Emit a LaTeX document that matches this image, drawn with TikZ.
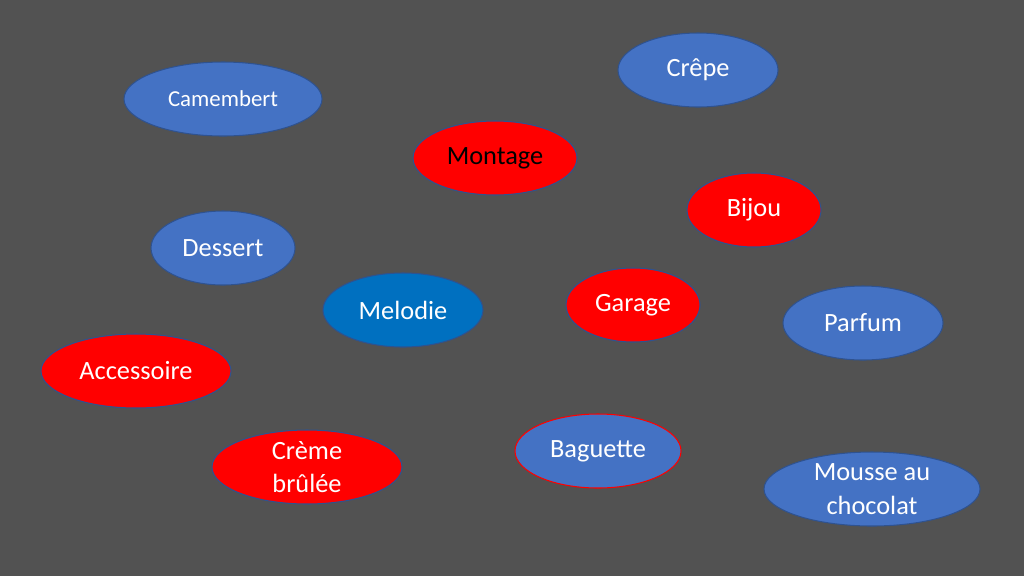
\documentclass[tikz,border=0pt]{standalone}
\usepackage{fontspec}
\setmainfont{Carlito}
\usetikzlibrary{shapes.geometric}
\definecolor{bgray}{HTML}{525252}
\definecolor{wblue}{HTML}{4472C4}
\definecolor{wborder}{HTML}{2F528F}
\definecolor{mblue}{HTML}{0070C0}
\tikzset{
  word/.style={ellipse,draw=wborder,line width=0.6pt,inner sep=0pt,text=white,font=\fontsize{15}{19}\selectfont,align=center},
  blueword/.style={word,fill=wblue},
  redword/.style={word,fill=red},
}
\begin{document}
\begin{tikzpicture}[x=0.02cm,y=-0.02cm]
\fill[bgray] (0,0) rectangle (1024,576);
\node[blueword,minimum width=198*0.02cm,minimum height=74*0.02cm,font=\fontsize{13}{16}\selectfont] (camembert) at (223,99) {Camembert};
\node[blueword,minimum width=160*0.02cm,minimum height=74*0.02cm] (crepe) at (698,70) {Crêpe};
\node[redword,minimum width=164*0.02cm,minimum height=74*0.02cm,text=black] (montage) at (495,158) {Montage};
\node[redword,minimum width=134*0.02cm,minimum height=74*0.02cm] (bijou) at (754,210) {Bijou};
\node[blueword,minimum width=144*0.02cm,minimum height=74*0.02cm] (dessert) at (223,248) {Dessert};
\node[word,fill=mblue,minimum width=160*0.02cm,minimum height=74*0.02cm] (melodie) at (403,310) {Melodie};
\node[redword,minimum width=134*0.02cm,minimum height=74*0.02cm] (garage) at (633,305) {Garage};
\node[blueword,minimum width=160*0.02cm,minimum height=74*0.02cm] (parfum) at (863,323) {Parfum};
\node[redword,minimum width=190*0.02cm,minimum height=74*0.02cm] (accessoire) at (136,371) {Accessoire};
\node[redword,minimum width=190*0.02cm,minimum height=74*0.02cm] (creme) at (307,467) {Crème\\brûlée};
\node[blueword,draw=red,minimum width=166*0.02cm,minimum height=74*0.02cm] (baguette) at (598,451) {Baguette};
\node[blueword,minimum width=216*0.02cm,minimum height=74*0.02cm] (mousse) at (872,489) {Mousse au\\chocolat};
\end{tikzpicture}
\end{document}
